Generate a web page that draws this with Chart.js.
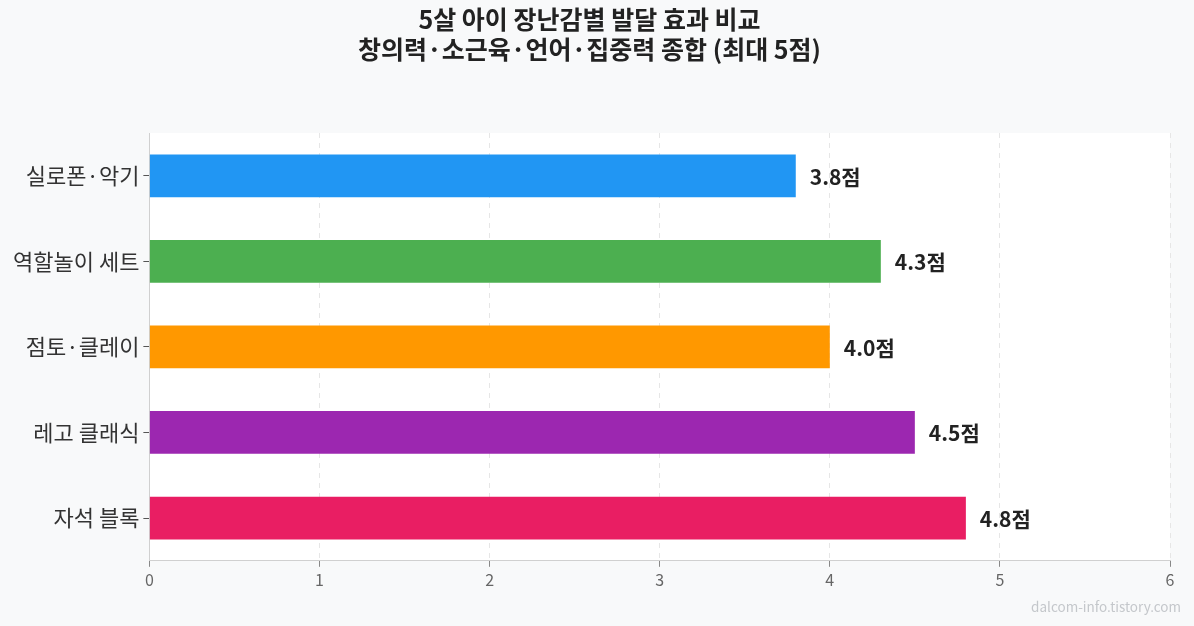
<!DOCTYPE html>
<html>
<head>
<meta charset="utf-8">
<script src="https://cdn.jsdelivr.net/npm/chart.js@4"></script>
<style>
  html, body { margin: 0; padding: 0; background: #f8f9fa; }
  #wrap { width: 1194px; height: 626px; }
</style>
</head>
<body>
<div id="wrap"><canvas id="myChart"></canvas></div>
<script>
const categories = ['실로폰·악기', '역할놀이 세트', '점토·클레이', '레고 클래식', '자석 블록'];
const scores = [3.8, 4.3, 4.0, 4.5, 4.8];
const barColors = ['#2196f3', '#4caf50', '#ff9800', '#9c27b0', '#e91e63'];
const xTicks = [0, 1, 2, 3, 4, 5, 6];

const FONT = "'Noto Sans CJK KR', 'Noto Sans', sans-serif";

// white plot area, value labels and the watermark
const decor = {
  id: 'decor',
  beforeDraw(chart) {
    const a = chart.chartArea;
    const ctx = chart.ctx;
    ctx.save();
    ctx.fillStyle = '#ffffff';
    ctx.fillRect(a.left, a.top, a.right - a.left, a.bottom - a.top);
    ctx.restore();
  },
  afterDatasetsDraw(chart) {
    const ctx = chart.ctx;
    const meta = chart.getDatasetMeta(0);
    ctx.save();
    ctx.font = 'bold 21px ' + FONT;
    ctx.fillStyle = '#222222';
    ctx.textBaseline = 'middle';
    meta.data.forEach((bar, i) => {
      ctx.fillText(scores[i].toFixed(1) + '점', bar.x + 14, bar.y + 1);
    });
    ctx.restore();
  },
  afterDraw(chart) {
    const ctx = chart.ctx;
    ctx.save();
    ctx.font = '13.5px ' + FONT;
    ctx.fillStyle = '#c4c7cb';
    ctx.textAlign = 'right';
    ctx.textBaseline = 'middle';
    ctx.fillText('dalcom-info.tistory.com', chart.width - 13, 607);
    ctx.restore();
  }
};

const config = {
  type: 'bar',
  data: {
    labels: categories,
    datasets: [{
      data: scores,
      backgroundColor: barColors,
      borderWidth: 0,
      barPercentage: 0.5,
      categoryPercentage: 1.0
    }]
  },
  options: {
    indexAxis: 'y',
    responsive: true,
    maintainAspectRatio: false,
    animation: false,
    layout: { padding: { left: 9, right: 24, top: 4, bottom: 32 } },
    plugins: {
      legend: { display: false },
      tooltip: { enabled: false },
      title: {
        display: true,
        text: ['5살 아이 장난감별 발달 효과 비교', '창의력·소근육·언어·집중력 종합 (최대 5점)'],
        color: '#222222',
        font: { family: FONT, size: 25, weight: 'bold', lineHeight: 1.2 },
        padding: { top: 0, bottom: 69 }
      }
    },
    scales: {
      x: {
        min: 0,
        max: 6,
        afterBuildTicks(axis) {
          axis.ticks = xTicks.map(v => ({ value: v }));
        },
        grid: {
          color: '#e6e6e6',
          tickColor: '#888888',
          tickLength: 6
        },
        border: { color: '#d0d0d0', dash: [5, 5] },
        ticks: {
          color: '#666666',
          font: { family: FONT, size: 16 },
          padding: 4
        }
      },
      y: {
        grid: {
          display: true,
          offset: false,
          drawOnChartArea: false,
          tickColor: '#555555',
          tickLength: 6
        },
        border: { color: '#d0d0d0' },
        ticks: {
          color: '#333333',
          font: { family: FONT, size: 22 },
          padding: 4
        }
      }
    }
  },
  plugins: [decor]
};

const myChart = new Chart(document.getElementById('myChart'), config);
</script>
</body>
</html>
